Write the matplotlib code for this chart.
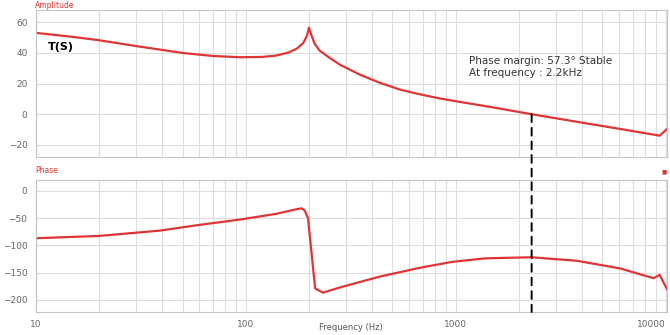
import matplotlib
matplotlib.use("Agg")
import matplotlib.pyplot as plt
from matplotlib.patches import ConnectionPatch
from matplotlib.ticker import FixedLocator, LogLocator, NullFormatter

# Bode plot data
mag_freq = [10, 15, 20, 30, 50, 70, 94, 120, 140, 160, 175, 188, 196, 200,
            205, 213, 225, 246, 281, 350, 436, 542, 675, 840, 1000, 1500,
            2300, 4000, 6000, 9370, 10140]
mag_db = [53.1, 50.5, 48.3, 44.5, 40.0, 38.0, 37.2, 37.4, 38.3, 40.3,
          42.8, 46.5, 51.5, 56.6, 52.0, 46.0, 41.5, 37.6, 32.3, 25.8,
          20.5, 16.1, 13.0, 10.3, 8.5, 4.5, 0.0, -5.5, -9.5, -14.0, -9.7]

ph_freq = [10, 20, 39, 60, 94, 140, 175, 185, 191, 198, 214, 233, 281,
           436, 675, 966, 1390, 2300, 3760, 6050, 8740, 9370, 10140]
ph_deg = [-86.8, -82.6, -72.8, -62.4, -52.5, -42.0, -33.5, -32.0, -36.0,
          -50.0, -178.6, -186.6, -177.0, -157.0, -141.0, -130.0, -123.6,
          -121.7, -128.0, -142.0, -160.0, -154.0, -180.0]

cross_freq = 2300
mag_ticks = [60, 40, 20, 0, -20]
ph_ticks = [0, -50, -100, -150, -200]
freq_ticks = [10, 100, 1000, 10000]
freq_labels = ["10", "100", "1000", "10000"]

RED = "#e03535"
GRID = "#dedede"
TICK = "#666666"

fig = plt.figure(figsize=(6.7, 3.35), dpi=100)
ax1 = fig.add_axes([0.0534, 0.531, 0.942, 0.439])
ax2 = fig.add_axes([0.0534, 0.0687, 0.942, 0.394])

for ax in (ax1, ax2):
    ax.set_xscale("log")
    ax.set_xlim(10, 10140)
    ax.xaxis.set_major_locator(FixedLocator(freq_ticks))
    ax.xaxis.set_minor_locator(LogLocator(base=10, subs=range(2, 10)))
    ax.xaxis.set_minor_formatter(NullFormatter())
    ax.grid(True, which="both", axis="x", color=GRID, lw=0.8)
    ax.grid(True, which="major", axis="y", color=GRID, lw=0.8)
    ax.tick_params(which="both", length=0, labelsize=6.5,
                   labelcolor=TICK, pad=6)
    for s in ax.spines.values():
        s.set_color("#c4c4c4")
        s.set_linewidth(0.8)
    ax.set_axisbelow(True)

# magnitude
ax1.plot(mag_freq, mag_db, color=RED, lw=1.6)
ax1.set_ylim(-28, 68)
ax1.set_yticks(mag_ticks)
ax1.set_xticklabels([])
ax1.text(0.019, 0.748, "T(S)", transform=ax1.transAxes, fontsize=8,
         fontweight="bold", va="center")
ax1.text(0.686, 0.69, "Phase margin: 57.3° Stable\nAt frequency : 2.2kHz",
         transform=ax1.transAxes, fontsize=7.5, va="top", color="#333333",
         linespacing=1.25)

# phase
ax2.plot(ph_freq, ph_deg, color=RED, lw=1.6)
ax2.set_ylim(-222, 20)
ax2.set_yticks(ph_ticks)
ax2.set_xticklabels(freq_labels)
lbls = ax2.get_xticklabels()
lbls[-1].set_horizontalalignment("right")

# dashed crossover line across both panels
con = ConnectionPatch(xyA=(cross_freq, 0), coordsA=ax1.transData,
                      xyB=(cross_freq, -222), coordsB=ax2.transData,
                      color="black", lw=1.4, linestyle=(0, (4, 3)))
fig.add_artist(con)

fig.text(0.052, 0.983, "Amplitude", color=RED, fontsize=5.5, va="center")
fig.text(0.052, 0.4925, "Phase", color=RED, fontsize=5.5, va="center")
fig.text(0.991, 0.4866, "■", color=RED, fontsize=4, ha="center",
         va="center")
fig.text(0.524, 0.021, "Frequency (Hz)", color="#555555", fontsize=6,
         ha="center", va="center")

fig.savefig("out.png", dpi=100)
